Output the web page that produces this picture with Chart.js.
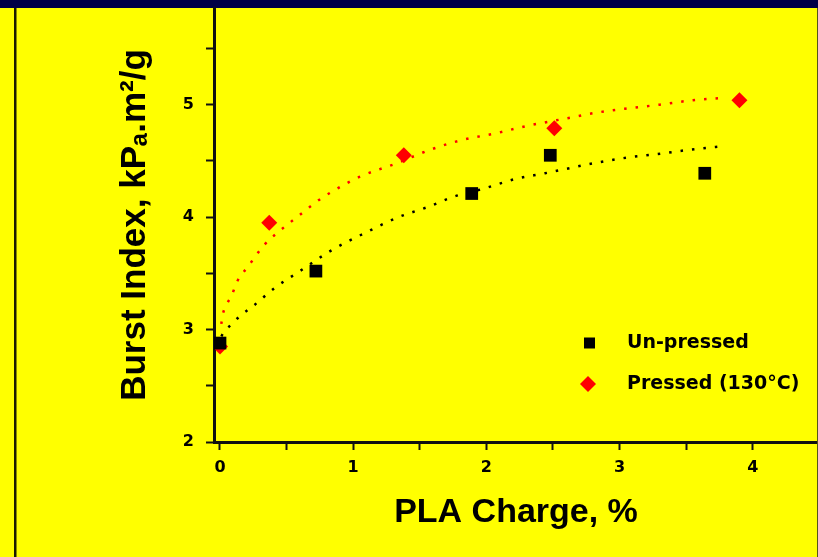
<!DOCTYPE html>
<html>
<head>
<meta charset="utf-8">
<script src="https://cdn.jsdelivr.net/npm/chart.js@4"></script>
<style>
  html, body { margin: 0; padding: 0; background: #ffff00; }
  #wrap { width: 818px; height: 557px; }
</style>
</head>
<body>
<div id="wrap"><canvas id="myChart" width="818" height="557"></canvas></div>
<script>
// measured points
var unpressedX = [0, 0.72, 1.89, 2.48, 3.64];
var unpressedY = [2.88, 3.52, 4.21, 4.55, 4.39];
var pressedX = [0, 0.37, 1.38, 2.51, 3.90];
var pressedY = [2.85, 3.95, 4.55, 4.79, 5.04];

// dotted trend curves
var unpressedFitX = [0.01, 0.03, 0.09, 0.15, 0.25, 0.41, 0.6, 0.83, 1.09, 1.34, 1.56, 1.75, 1.97, 2.22, 2.44, 2.81, 3.06, 3.28, 3.53, 3.77];
var unpressedFitY = [2.94, 2.98, 3.05, 3.12, 3.21, 3.37, 3.52, 3.70, 3.86, 4.00, 4.09, 4.18, 4.25, 4.34, 4.39, 4.48, 4.53, 4.56, 4.60, 4.63];
var pressedFitX = [0.01, 0.02, 0.04, 0.09, 0.13, 0.21, 0.33, 0.43, 0.60, 0.74, 0.89, 1.05, 1.33, 1.58, 1.83, 2.05, 2.30, 2.61, 2.83, 3.08, 3.30, 3.55, 3.77];
var pressedFitY = [3.05, 3.13, 3.20, 3.31, 3.43, 3.56, 3.75, 3.86, 4.02, 4.15, 4.26, 4.36, 4.48, 4.60, 4.69, 4.74, 4.81, 4.88, 4.93, 4.97, 5.00, 5.04, 5.06];

var yTicks = [2, 3, 4, 5];
var xTicks = [0, 1, 2, 3, 4];

function pts(xs, ys) {
    var out = [];
    for (var i = 0; i < xs.length; i++) out.push({x: xs[i], y: ys[i]});
    return out;
}

function halfSteps(scale) {
    scale.ticks = scale.ticks.filter(function (t) {
        return Math.abs(t.value * 2 - Math.round(t.value * 2)) < 1e-6;
    });
}

var background = {
    id: 'background',
    beforeDraw: function (chart) {
        var c = chart.ctx;
        c.save();
        c.fillStyle = '#ffff00';
        c.fillRect(0, 0, chart.width, chart.height);
        c.fillStyle = '#000046';
        c.fillRect(0, 0, chart.width, 8);
        c.fillStyle = '#1a1a00';
        c.fillRect(14, 8, 2.5, chart.height - 8);
        c.restore();
    },
    afterDraw: function (chart) {
        var c = chart.ctx;
        c.save();
        c.fillStyle = '#55551a';
        c.fillRect(817, 8, 1, chart.height - 8);
        c.restore();
    }
};

var keyBox = {
    id: 'keyBox',
    afterDraw: function (chart) {
        var c = chart.ctx;
        var rows = [chart.data.datasets[0], chart.data.datasets[1]];
        var ys = [343, 384];
        c.save();
        c.font = 'bold 19px "DejaVu Sans"';
        c.textBaseline = 'middle';
        c.textAlign = 'left';
        rows.forEach(function (ds, i) {
            var y = ys[i];
            c.fillStyle = ds.backgroundColor;
            c.beginPath();
            if (ds.pointStyle === 'rect') {
                c.rect(584, y - 5.5, 11, 11);
            } else {
                c.moveTo(588, y - 8);
                c.lineTo(596, y);
                c.lineTo(588, y + 8);
                c.lineTo(580, y);
                c.closePath();
            }
            c.fill();
            c.fillStyle = '#000';
            c.fillText(ds.label, 627, y);
        });
        c.restore();
    }
};

var ctx = document.getElementById('myChart').getContext('2d');
var chart = new Chart(ctx, {
    type: 'scatter',
    data: {
        datasets: [{
            label: 'Un-pressed',
            data: pts(unpressedX, unpressedY),
            pointStyle: 'rect',
            pointRadius: 9,
            backgroundColor: '#000000',
            borderColor: '#000000',
            borderWidth: 0,
            order: 0
        }, {
            label: 'Pressed (130°C)',
            data: pts(pressedX, pressedY),
            pointStyle: 'rectRot',
            pointRadius: 8,
            backgroundColor: '#ff0000',
            borderColor: '#ff0000',
            borderWidth: 0,
            order: 0
        }, {
            label: 'fit1',
            data: pts(unpressedFitX, unpressedFitY),
            showLine: true,
            pointRadius: 0,
            borderColor: '#000000',
            borderWidth: 2.5,
            borderDash: [2.5, 9],
            cubicInterpolationMode: 'monotone',
            order: 1
        }, {
            label: 'fit2',
            data: pts(pressedFitX, pressedFitY),
            showLine: true,
            pointRadius: 0,
            borderColor: '#ff0000',
            borderWidth: 2.5,
            borderDash: [2.5, 9],
            cubicInterpolationMode: 'monotone',
            order: 1
        }]
    },
    options: {
        responsive: false,
        animation: false,
        layout: { autoPadding: false, padding: { top: 8, left: 0, right: 0, bottom: 0 } },
        plugins: {
            legend: { display: false },
            tooltip: { enabled: false }
        },
        scales: {
            x: {
                type: 'linear',
                min: -0.045,
                max: 4.49,
                afterBuildTicks: halfSteps,
                afterFit: function (s) {
                    s.height = 115;
                    s.paddingLeft = 0;
                    s.paddingRight = 0;
                },
                ticks: {
                    stepSize: 0.5,
                    includeBounds: false,
                    color: '#000',
                    padding: 8,
                    maxRotation: 0,
                    autoSkip: false,
                    font: { family: '"DejaVu Sans"', size: 16, weight: 'bold' },
                    callback: function (v) { return xTicks.indexOf(v) >= 0 ? String(v) : ''; }
                },
                grid: { drawOnChartArea: false, tickLength: 8, tickColor: '#111', tickWidth: 2 },
                border: { display: true, color: '#111', width: 3 },
                title: {
                    display: true,
                    text: 'PLA Charge, %',
                    color: '#000',
                    font: { family: '"Liberation Sans"', size: 34, weight: 'bold' },
                    padding: { top: 0, bottom: 24 }
                }
            },
            y: {
                type: 'linear',
                min: 2,
                max: 5.86,
                afterBuildTicks: halfSteps,
                afterFit: function (s) {
                    s.width = 214;
                    s.paddingTop = 0;
                    s.paddingBottom = 0;
                },
                ticks: {
                    stepSize: 0.5,
                    includeBounds: false,
                    color: '#000',
                    padding: 12,
                    autoSkip: false,
                    font: { family: '"DejaVu Sans"', size: 16, weight: 'bold' },
                    callback: function (v) { return yTicks.indexOf(v) >= 0 ? String(v) : ''; }
                },
                grid: { drawOnChartArea: false, tickLength: 8, tickColor: '#111', tickWidth: 2 },
                border: { display: true, color: '#111', width: 3 },
                title: {
                    display: true,
                    text: 'Burst Index, kPₐ.m²/g',
                    color: '#000',
                    font: { family: '"Liberation Sans"', size: 35, weight: 'bold' },
                    padding: { top: 114, bottom: 0 }
                }
            }
        }
    },
    plugins: [background, keyBox]
});
</script>
</body>
</html>
